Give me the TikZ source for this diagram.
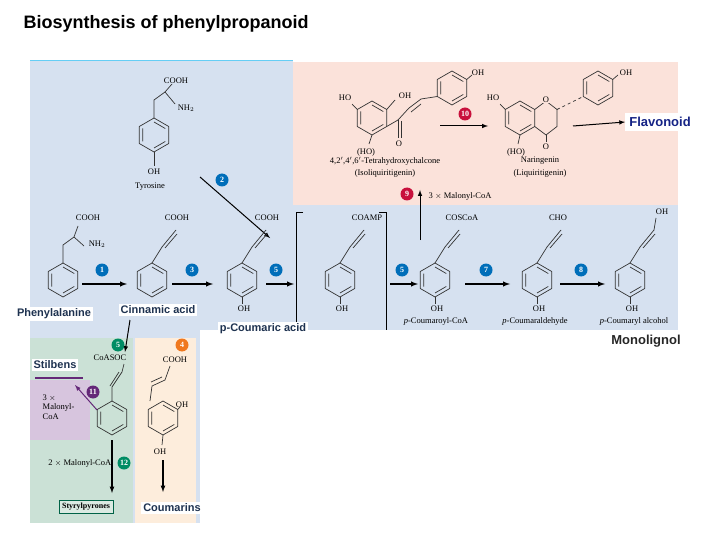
\documentclass[tikz,border=0pt]{standalone}
\usepackage{fontspec}
\setmainfont{Liberation Serif}
\newfontfamily\arialf{Liberation Sans}
\definecolor{bgblue}{RGB}{214,225,240}
\definecolor{bgpink}{RGB}{251,226,218}
\definecolor{bggreen}{RGB}{203,225,214}
\definecolor{bgorange}{RGB}{253,237,220}
\definecolor{bgpurple}{RGB}{215,197,222}
\definecolor{bblue}{RGB}{0,110,185}
\definecolor{bred}{RGB}{200,16,60}
\definecolor{bgreen}{RGB}{0,140,100}
\definecolor{borange}{RGB}{240,120,30}
\definecolor{bpurple}{RGB}{100,40,120}
\definecolor{lbl}{RGB}{30,50,80}
\newcommand\benz[2]{%
 \draw[bond] (#1,#2) +(30:17) -- +(90:17) -- +(150:17) -- +(210:17) -- +(270:17) -- +(330:17) -- cycle;
 \draw[bond] (#1,#2) +(30:13) -- +(90:13) +(150:13) -- +(210:13) +(270:13) -- +(330:13);}
\newcommand\chain[2]{%
 \draw[bond] (#1,#2-17) -- (#1+10,#2-33);
 \draw[bond] (#1+10,#2-33) -- (#1+24,#2-50);
 \draw[bond] (#1+13,#2-32) -- (#1+25,#2-46);}
\begin{document}
\begin{tikzpicture}[x=1pt,y=-1pt,
 bond/.style={line width=0.7pt,black!80},
 chem/.style={font=\fontsize{8.5}{9.5}\selectfont,inner sep=0.5pt},
 badge/.style={circle,inner sep=0pt,minimum size=13pt,text=white,font=\fontsize{8}{8}\selectfont\bfseries},
 big/.style={font=\arialf\fontsize{11}{12}\selectfont\bfseries,text=lbl,fill=white,inner sep=2pt},
 arr/.style={line width=1.4pt,-latex}]
\useasboundingbox (0,0) rectangle (720,540);
\fill[white] (0,0) rectangle (720,540);
\fill[bgblue] (30,60) rectangle (293,330);
\fill[bgblue] (293,205) rectangle (678,330);
\fill[bgpink] (293,62) rectangle (678,205);
\draw[cyan!60,line width=0.8pt] (30,60) -- (293,60);
\fill[bgblue] (30,330) rectangle (200,523);
\fill[bggreen] (30,338) rectangle (133,523);
\fill[bgorange] (135,338) rectangle (196,523);
\fill[bgpurple] (30,380) rectangle (90,440);
\draw[bpurple,line width=1.5pt] (35,378) -- (83,378);
\node[anchor=west,font=\arialf\fontsize{18}{20}\selectfont\bfseries] (title) at (20,24) {Biosynthesis of phenylpropanoid};
% tyrosine
\benz{154}{135}
\draw[bond] (154,118) -- (154,100) -- (165,92) -- (172,84);
\draw[bond] (165,92) -- (175,104);
\node[chem] (tyc) at (176,81) {COOH};
\node[chem] (tyn) at (186,108) {NH$_2$};
\node[chem] (tyo) at (154,172) {OH};
\draw[bond] (154,152) -- (154,166);
\node[chem] (tyl) at (150,187) {Tyrosine};
\node[badge,fill=bblue] (b2) at (222,180) {2};
\coordinate (ta) at (200,177); \coordinate (tb) at (270,238);
\draw[line width=1pt,-latex] (ta) -- (tb);
% phenylalanine
\benz{63}{280}
\draw[bond] (63,263) -- (63,245) -- (74,237) -- (78,226);
\draw[bond] (74,237) -- (84,246);
\node[chem] (pac) at (88,218) {COOH};
\node[chem] (pan) at (97,244) {NH$_2$};
\benz{152}{280}\chain{152}{280}
\node[chem] (cic) at (177,218) {COOH};
\benz{242}{280}\chain{242}{280}
\node[chem] (pcc) at (267,218) {COOH};
\node[chem] (pco) at (244,309) {OH};
\draw[bond] (242,297) -- (242,304);
\benz{340}{280}\chain{340}{280}
\node[chem] (amp) at (367,218) {COAMP};
\node[chem] (ampo) at (342,309) {OH};
\draw[bond] (340,297) -- (340,304);
\draw[line width=0.6pt] (303,212) -- (296,212) -- (296,330);
\draw[line width=0.6pt] (379,212) -- (386,212) -- (386,330);
\benz{435}{280}\chain{435}{280}
\node[chem] (coa) at (462,218) {COSCoA};
\node[chem] (coao) at (437,309) {OH};
\draw[bond] (435,297) -- (435,304);
\node[chem] (coal) at (436,321) {\textit{p}-Coumaroyl-CoA};
\benz{537}{280}\chain{537}{280}
\node[chem] (ald) at (558,218) {CHO};
\node[chem] (aldo) at (539,309) {OH};
\draw[bond] (537,297) -- (537,304);
\node[chem] (aldl) at (535,321) {\textit{p}-Coumaraldehyde};
\benz{630}{280}\chain{630}{280}
\draw[bond] (654,230) -- (656,218);
\node[chem] (alc) at (662,212) {OH};
\node[chem] (alco) at (632,309) {OH};
\draw[bond] (630,297) -- (630,304);
\node[chem] (alcl) at (634,321) {\textit{p}-Coumaryl alcohol};
% row arrows
\coordinate (a1) at (82,284); \coordinate (a1e) at (127,284);
\draw[arr] (a1) -- (a1e); \node[badge,fill=bblue] (b1) at (102,270) {1};
\coordinate (a3) at (172,284); \coordinate (a3e) at (213,284);
\draw[arr] (a3) -- (a3e); \node[badge,fill=bblue] (b3) at (192,270) {3};
\coordinate (a5) at (266,284); \coordinate (a5e) at (294,284);
\draw[arr] (a5) -- (a5e); \node[badge,fill=bblue] (b5) at (276,270) {5};
\coordinate (a5b) at (390,284); \coordinate (a5be) at (418,284);
\draw[arr] (a5b) -- (a5be); \node[badge,fill=bblue] (b5b) at (402,270) {5};
\coordinate (a7) at (465,284); \coordinate (a7e) at (510,284);
\draw[arr] (a7) -- (a7e); \node[badge,fill=bblue] (b7) at (486,270) {7};
\coordinate (a8) at (560,284); \coordinate (a8e) at (605,284);
\draw[arr] (a8) -- (a8e); \node[badge,fill=bblue] (b8) at (581,270) {8};
\coordinate (a9) at (420,240); \coordinate (a9e) at (420,190);
\draw[line width=1pt,-latex] (a9) -- (a9e);
\node[badge,fill=bred] (b9) at (407,194) {9};
\node[chem,anchor=west] (mal9) at (428,196) {3 $\times$ Malonyl-CoA};
% chalcone
\benz{372}{118}
\benz{452}{88}
\draw[bond] (386.7,126.5) -- (398,120);
\draw[bond] (398,120) -- (398,138);
\draw[bond] (401,121) -- (401,138);
\draw[bond] (398,120) -- (409,108) -- (421,99);
\draw[bond] (411,112) -- (421,104);
\draw[bond] (421,99) -- (437.3,96.5);
\node[chem] (ch1) at (345,98) {HO};
\draw[bond] (357.3,109.5) -- (352,104);
\node[chem] (ch2) at (405,96) {OH};
\draw[bond] (386.7,109.5) -- (395,100);
\node[chem] (ch3) at (366,152) {(HO)};
\draw[bond] (372,135) -- (369,144);
\node[chem] (ch4) at (399,144) {O};
\node[chem] (ch5) at (478,73) {OH};
\draw[bond] (466.7,79.5) -- (472,75);
\node[chem] (chl) at (385,161) {4,2$'$,4$'$,6$'$-Tetrahydroxychalcone};
\node[chem] (chl2) at (385,173) {(Isoliquiritigenin)};
\coordinate (a10) at (440,126); \coordinate (a10e) at (488,126);
\draw[line width=1pt,-latex] (a10) -- (a10e);
\node[badge,fill=bred] (b10) at (465,114) {10};
% naringenin
\benz{520}{118}
\draw[bond] (534.7,109.5) -- (546,101) -- (557,109.5) -- (557,126.5) -- (546,135) -- (534.7,126.5);
\draw[bond] (546,135) -- (546,142);
\node[chem] (no) at (546,147) {O};
\node[chem,fill=bgpink] (nr) at (546,100) {O};
\benz{598}{88}
\draw[bond,dashed] (557,109.5) -- (583.3,96.5);
\node[chem] (n1) at (493,98) {HO};
\draw[bond] (505.3,109.5) -- (500,104);
\node[chem] (n3) at (516,152) {(HO)};
\draw[bond] (520,135) -- (518,144);
\node[chem] (n5) at (626,73) {OH};
\draw[bond] (612.7,79.5) -- (618,75);
\node[chem] (nl) at (540,161) {Naringenin};
\node[chem] (nl2) at (540,173) {(Liquiritigenin)};
\node[big,font=\arialf\fontsize{13}{15}\selectfont\bfseries,text=lbl!70!blue,inner sep=4pt] (flav) at (660,122) {Flavonoid};
\draw[line width=1pt,-latex] (573,126) -- (flav.west);
% lower panel
\node[badge,fill=bgreen] (b5g) at (118,345) {5};
\node[chem] (coas) at (110,358) {CoASOC};
\draw[bond] (124,364) -- (122,372) -- (112,387) -- (112,401);
\draw[bond] (119,372) -- (110,386);
\benz{112}{418}
\node[badge,fill=borange] (b4) at (182,345) {4};
\node[chem] (oc) at (175,360) {COOH};
\draw[bond] (170,366) -- (165,380) -- (152,386) -- (150,401);
\draw[bond] (162,377) -- (151,382);
\benz{163}{418}
\node[chem] (oh1) at (182,405) {OH};
\draw[bond] (177.7,409.5) -- (180,407);
\node[chem] (oh2) at (160,452) {OH};
\draw[bond] (163,435) -- (162,445);
\node[chem,align=left,anchor=west] (mal11) at (42,407) {3 $\times$\\Malonyl-\\CoA};
\node[badge,fill=bpurple] (b11) at (93,392) {11};
\draw[bpurple,line width=1pt,-latex] (97,410) -- (75,385);
\draw[line width=1.2pt,-latex] (112,440) -- (112,493);
\node[badge,fill=bgreen] (b12) at (124,463) {12};
\node[chem,anchor=east] (mal12) at (112,463) {2 $\times$ Malonyl-CoA};
\node[chem,font=\fontsize{8}{9}\selectfont\bfseries,draw=bgreen!70!black,fill=bggreen!70,inner sep=3pt] (sty) at (86,507) {Styrylpyrones};
\draw[line width=1.2pt,-latex] (163,460) -- (163,492);
\node[big] (phe) at (54,314) {Phenylalanine};
\node[big] (cin) at (158,310) {Cinnamic acid};
\node[big] (pca) at (263,329) {p-Coumaric acid};
\node[big,font=\arialf\fontsize{13}{15}\selectfont\bfseries,text=black!85] (mono) at (646,341) {Monolignol};
\node[big] (stil) at (55,365) {Stilbens};
\node[big] (cou) at (172,508) {Coumarins};
\draw[line width=1pt,-latex] (130,320) -- (125,352);
\end{tikzpicture}
\end{document}
